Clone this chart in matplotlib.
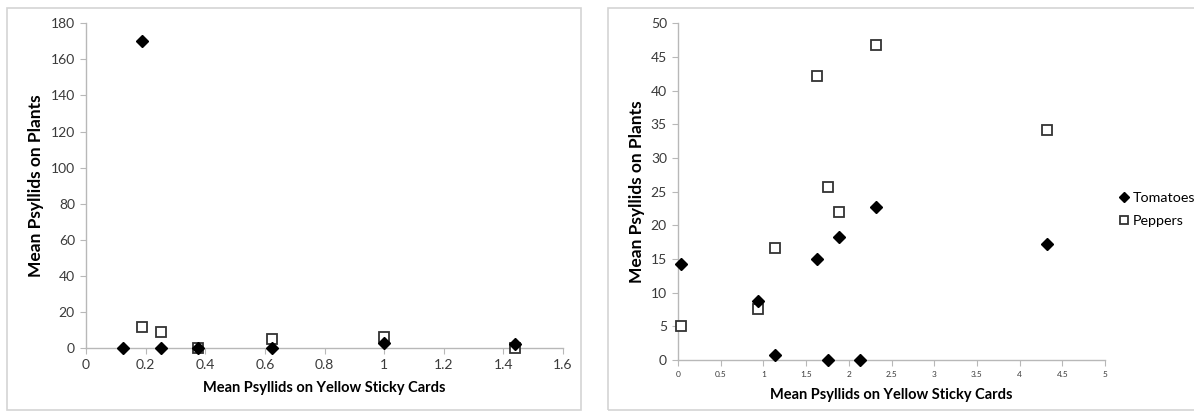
import matplotlib
matplotlib.use('Agg')
import matplotlib.pyplot as plt
from matplotlib.patches import Rectangle

plt.rcParams['font.family'] = ['Lato', 'DejaVu Sans']

# left panel
left_x = [0.125, 0.1875, 0.25, 0.375, 0.625, 1.0, 1.4375]
left_tom = [0, 170, 0, 0, 0, 2.6, 2]
left_pep = [None, 11.8, 8.7, 0, 5, 5.9, 0]

# right panel
right_x = [0.04, 0.94, 1.13, 1.63, 1.76, 1.88, 2.13, 2.32, 4.32]
right_tom = [14.2, 8.7, 0.7, 15.0, 0, 18.3, 0, 22.7, 17.3]
right_pep_x = [0.04, 0.94, 1.13, 1.63, 1.76, 1.88, 2.32, 4.32]
right_pep = [5.1, 7.5, 16.7, 42.1, 25.7, 22.0, 46.8, 34.1]

W, H = 1194, 413
fig = plt.figure(figsize=(W / 100, H / 100), dpi=100)


def px_axes(x0, x1, y0, y1):
    return fig.add_axes([x0 / W, 1 - y1 / H, (x1 - x0) / W, (y1 - y0) / H])


# panel frames
for x0, x1 in [(6.5, 581), (608, 1200)]:
    fig.patches.append(Rectangle((x0 / W, 1 - 410 / H), (x1 - x0) / W, (410 - 7.5) / H,
                                 transform=fig.transFigure, fill=False,
                                 edgecolor='#d4d4d4', lw=1.2))

gray = '#b8b8b8'
tick_col = '#3a3a3a'


def style(ax, xlabfs, ylabpad):
    for s in ['top', 'right']:
        ax.spines[s].set_visible(False)
    for s in ['left', 'bottom']:
        ax.spines[s].set_color(gray)
        ax.spines[s].set_linewidth(1.0)
    ax.tick_params(axis='y', direction='out', length=4, color=gray, labelsize=10,
                   labelcolor=tick_col, pad=4)
    ax.tick_params(axis='x', direction='out', length=4, color=gray, labelsize=xlabfs,
                   labelcolor=tick_col, pad=4)
    ax.set_xlabel('Mean Psyllids on Yellow Sticky Cards', fontsize=10.5,
                  fontweight='bold', labelpad=7)
    ax.set_ylabel('Mean Psyllids on Plants', fontsize=12.5, fontweight='bold',
                  labelpad=ylabpad)


ax1 = px_axes(86, 563, 23.3, 348)
ax1.set_xlim(0, 1.6)
ax1.set_ylim(0, 180)
ax1.set_xticks([0, 0.2, 0.4, 0.6, 0.8, 1.0, 1.2, 1.4, 1.6])
ax1.set_xticklabels(['0', '0.2', '0.4', '0.6', '0.8', '1', '1.2', '1.4', '1.6'])
ax1.set_yticks(range(0, 181, 20))
style(ax1, 10, 5)
lp_x = [x for x, y in zip(left_x, left_pep) if y is not None]
lp_y = [y for y in left_pep if y is not None]
ax1.plot(lp_x, lp_y, 's', ms=7.5, mfc='white', mec='#333333', mew=1.3,
         clip_on=False, zorder=3)
ax1.plot(left_x, left_tom, 'D', ms=6, color='black', clip_on=False, zorder=4)

ax2 = px_axes(678, 1105, 23.3, 360)
ax2.set_xlim(0, 5)
ax2.set_ylim(0, 50)
ax2.set_xticks([0, 0.5, 1, 1.5, 2, 2.5, 3, 3.5, 4, 4.5, 5])
ax2.set_xticklabels(['0', '0.5', '1', '1.5', '2', '2.5', '3', '3.5', '4', '4.5', '5'])
ax2.set_yticks(range(0, 51, 5))
style(ax2, 6, 4)
ax2.plot(right_x, right_tom, 'D', ms=6, color='black', clip_on=False,
         zorder=4, label='Tomatoes')
ax2.plot(right_pep_x, right_pep, 's', ms=7.5, mfc='white', mec='#333333',
         mew=1.3, clip_on=False, zorder=3, label='Peppers')

leg = fig.legend(loc='upper left', bbox_to_anchor=(1112 / W, 1 - 185 / H),
                 frameon=False, fontsize=10.3, handlelength=0.7, handletextpad=0.25,
                 labelspacing=0.75, borderpad=0, markerscale=0.8)

fig.savefig('out.png', dpi=100)
